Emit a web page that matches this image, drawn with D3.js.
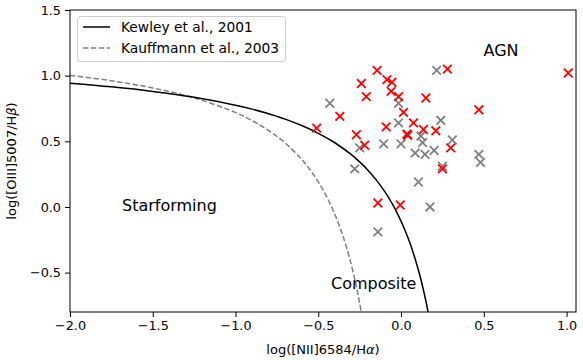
<!DOCTYPE html>
<html>
<head>
<meta charset="utf-8">
<script src="https://cdn.jsdelivr.net/npm/d3@7"></script>
<style>
  body { margin: 0; background: #fff; }
  text { font-family: "DejaVu Sans", sans-serif; }
</style>
</head>
<body>
<div id="canvas"></div>
<script>
const red_x = [-0.51, -0.37, -0.27, -0.24, -0.21, -0.22, -0.145, -0.085, -0.055, -0.06, -0.015, -0.09, 0.015, 0.075, 0.035, 0.04, 0.135, 0.15, 0.21, 0.28, 0.30, 0.25, 0.47, 1.01, -0.14, -0.005];
const red_y = [0.60, 0.69, 0.55, 0.94, 0.84, 0.47, 1.04, 0.97, 0.95, 0.88, 0.84, 0.61, 0.72, 0.64, 0.555, 0.545, 0.59, 0.83, 0.58, 1.05, 0.45, 0.29, 0.74, 1.02, 0.03, 0.015];
const gray_x = [-0.43, -0.25, -0.28, -0.105, -0.14, -0.015, -0.015, 0.0, 0.085, 0.12, 0.13, 0.145, 0.20, 0.215, 0.24, 0.31, 0.25, 0.105, 0.175, 0.47, 0.48, 0.04];
const gray_y = [0.79, 0.45, 0.29, 0.48, -0.19, 0.64, 0.79, 0.48, 0.41, 0.54, 0.49, 0.40, 0.43, 1.04, 0.66, 0.51, 0.31, 0.19, 0.0, 0.40, 0.34, 0.55];

// demarcation curves, tabulated
const kewley_x = [-2.0, -1.75, -1.5, -1.25, -1.0, -0.9, -0.8, -0.75, -0.7, -0.6, -0.5, -0.4, -0.3, -0.25, -0.2, -0.15, -0.1, -0.05, 0.0, 0.025, 0.05, 0.075, 0.1, 0.115, 0.13, 0.15, 0.17];
const kewley_y = [0.943, 0.915, 0.880, 0.835, 0.775, 0.745, 0.710, 0.690, 0.669, 0.620, 0.561, 0.489, 0.398, 0.343, 0.280, 0.206, 0.120, 0.017, -0.108, -0.181, -0.262, -0.354, -0.459, -0.528, -0.604, -0.716, -0.843];
const kauff_x = [-2.0, -1.75, -1.5, -1.25, -1.0, -0.9, -0.8, -0.7, -0.6, -0.55, -0.5, -0.45, -0.4, -0.35, -0.3, -0.27, -0.25, -0.23];
const kauff_y = [1.002, 0.961, 0.906, 0.831, 0.719, 0.658, 0.582, 0.487, 0.362, 0.283, 0.191, 0.080, -0.056, -0.225, -0.443, -0.606, -0.733, -0.879];

const x_ticks = [-2.0, -1.5, -1.0, -0.5, 0.0, 0.5, 1.0];
const y_ticks = [-0.5, 0.0, 0.5, 1.0, 1.5];

const width = 583, height = 360;
const margin = { top: 10, right: 7, bottom: 48, left: 70 };

const svg = d3.select('#canvas')
  .append('svg')
  .attr('width', width)
  .attr('height', height);

const x = d3.scaleLinear().domain([-2.0, 1.057]).range([margin.left, width - margin.right]);
const y = d3.scaleLinear().domain([-0.8, 1.5]).range([height - margin.bottom, margin.top]);

const fmt = (d) => d3.format('.1f')(d).replace('-', '\u2212');

svg.append('defs').append('clipPath').attr('id', 'clip')
  .append('rect')
  .attr('x', margin.left).attr('y', margin.top)
  .attr('width', x.range()[1] - margin.left)
  .attr('height', y.range()[0] - margin.top);

const plot = svg.append('g').attr('clip-path', 'url(#clip)');

const line = d3.line()
  .x((d) => x(d[0]))
  .y((d) => y(d[1]))
  .curve(d3.curveCatmullRom);

plot.append('path')
  .datum(d3.zip(kauff_x, kauff_y))
  .attr('d', line)
  .attr('fill', 'none')
  .attr('stroke', '#808080')
  .attr('stroke-width', 1.5)
  .attr('stroke-dasharray', '5.5,2.4');

plot.append('path')
  .datum(d3.zip(kewley_x, kewley_y))
  .attr('d', line)
  .attr('fill', 'none')
  .attr('stroke', '#000')
  .attr('stroke-width', 1.5);

function drawCrosses(xs, ys, color) {
  const s = 4.3;
  plot.append('g')
    .selectAll('path')
    .data(d3.zip(xs, ys))
    .join('path')
    .attr('d', (d) => {
      const cx = x(d[0]), cy = y(d[1]);
      return `M${cx - s},${cy - s}L${cx + s},${cy + s}M${cx - s},${cy + s}L${cx + s},${cy - s}`;
    })
    .attr('stroke', color)
    .attr('stroke-width', 1.8)
    .attr('fill', 'none');
}
drawCrosses(gray_x, gray_y, '#808080');
drawCrosses(red_x, red_y, '#ff0000');

// axes
const xAxis = svg.append('g')
  .attr('transform', `translate(0,${y.range()[0]})`)
  .call(d3.axisBottom(x).tickValues(x_ticks).tickFormat(fmt).tickSizeOuter(0).tickSize(5).tickPadding(4));
const yAxis = svg.append('g')
  .attr('transform', `translate(${margin.left},0)`)
  .call(d3.axisLeft(y).tickValues(y_ticks).tickFormat(fmt).tickSizeOuter(0).tickSize(5).tickPadding(4));
[xAxis, yAxis].forEach((a) => {
  a.select('.domain').remove();
  a.selectAll('text').attr('font-family', 'DejaVu Sans').attr('font-size', 12.8).attr('fill', '#000');
  a.selectAll('line').attr('stroke', '#000').attr('stroke-width', 1);
});

svg.append('rect')
  .attr('x', margin.left).attr('y', margin.top)
  .attr('width', x.range()[1] - margin.left)
  .attr('height', y.range()[0] - margin.top)
  .attr('fill', 'none')
  .attr('stroke', '#000')
  .attr('stroke-width', 1);

// axis labels
const xl = svg.append('text')
  .attr('x', (margin.left + x.range()[1]) / 2)
  .attr('y', 354)
  .attr('text-anchor', 'middle')
  .attr('font-size', 13);
xl.append('tspan').text('log([NII]6584/H');
xl.append('tspan').attr('font-style', 'italic').text('\u03b1');
xl.append('tspan').text(')');

const yl = svg.append('text')
  .attr('transform', `translate(16,${(margin.top + y.range()[0]) / 2}) rotate(-90)`)
  .attr('text-anchor', 'middle')
  .attr('font-size', 13);
yl.append('tspan').text('log([OIII]5007/H');
yl.append('tspan').attr('font-style', 'italic').text('\u03b2');
yl.append('tspan').text(')');

// region labels
svg.append('text').attr('x', 501).attr('y', 56).attr('text-anchor', 'middle').attr('font-size', 16).text('AGN');
svg.append('text').attr('x', 122).attr('y', 211).attr('font-size', 16).text('Starforming');
svg.append('text').attr('x', 331).attr('y', 289).attr('font-size', 16).text('Composite');

// legend
const legend = svg.append('g');
legend.append('rect')
  .attr('x', 77.5).attr('y', 16.5)
  .attr('width', 208).attr('height', 45)
  .attr('rx', 3)
  .attr('fill', '#fff').attr('fill-opacity', 0.8)
  .attr('stroke', '#cccccc');
const items = [
  { label: 'Kewley et al., 2001', color: '#000', dash: null },
  { label: 'Kauffmann et al., 2003', color: '#808080', dash: '5.5,2.4' },
];
items.forEach((it, i) => {
  const cy = 27 + i * 21;
  legend.append('line')
    .attr('x1', 83).attr('x2', 110).attr('y1', cy).attr('y2', cy)
    .attr('stroke', it.color).attr('stroke-width', 1.5)
    .attr('stroke-dasharray', it.dash);
  legend.append('text')
    .attr('x', 121).attr('y', cy + 5)
    .attr('font-size', 13.8)
    .text(it.label);
});
</script>
</body>
</html>
